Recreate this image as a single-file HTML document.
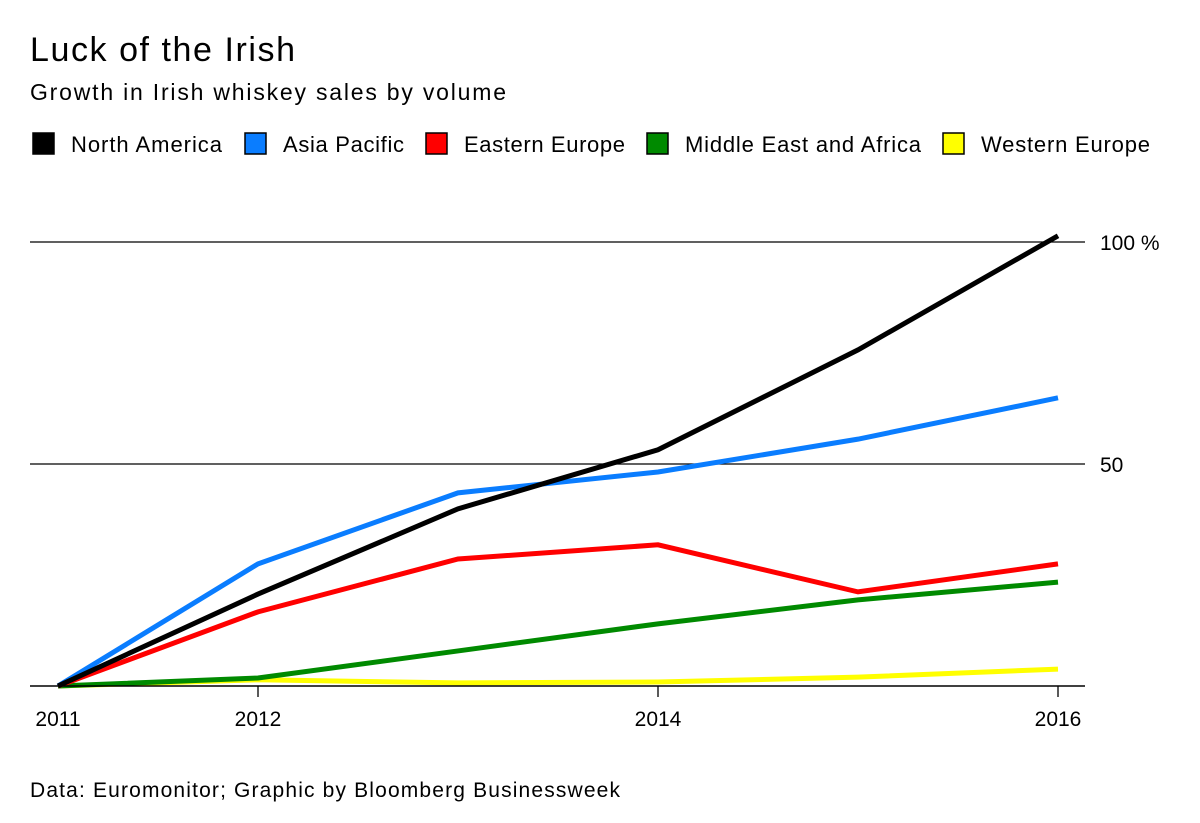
<!DOCTYPE html>
<html><head><meta charset="utf-8"><style>
body{margin:0;background:#fff;font-family:"Liberation Sans",sans-serif;}
svg{display:block}
</style></head><body>
<svg width="1200" height="823">
<text x="30" y="61" font-size="34" textLength="265" lengthAdjust="spacing" fill="#000">Luck of the Irish</text>
<text x="30" y="100" font-size="23" textLength="476" lengthAdjust="spacing" fill="#000">Growth in Irish whiskey sales by volume</text>
<g id="legend"></g>
<g id="grid"></g>
<g id="lines"></g>
<g id="xaxis"></g>
<text x="30" y="797" font-size="21" textLength="590" lengthAdjust="spacing" fill="#000">Data: Euromonitor; Graphic by Bloomberg Businessweek</text>
</svg>
<script>
const years=[2011,2012,2013,2014,2015,2016];
const seriesNames=["North America","Asia Pacific","Eastern Europe","Middle East and Africa","Western Europe"];
const seriesColors=["#000000","#0a7dff","#ff0000","#008a00","#ffff00"];
const northAmerica=[0,20.7,39.9,53.2,75.7,101.4];
const asiaPacific=[0,27.5,43.5,48.2,55.6,64.9];
const easternEurope=[0,16.7,28.6,31.8,21.2,27.5];
const middleEast=[0,1.8,7.9,14,19.4,23.4];
const westernEurope=[0,1.4,0.7,0.9,2,3.8];
const yTicks=[50,100];
const yTickLabels=["50","100 %"];
const xTicks=[2011,2012,2014,2016];
const NS="http://www.w3.org/2000/svg";
const X=v=>58+(v-2011)*200;
const Y=v=>686-v*4.44;
function mk(tag,attrs,parent){const e=document.createElementNS(NS,tag);for(const k in attrs)e.setAttribute(k,attrs[k]);parent.appendChild(e);return e;}
const grid=document.getElementById('grid');
yTicks.forEach((t,i)=>{
 const l=mk('line',{x1:30,x2:1085,y1:Y(t),y2:Y(t),stroke:'#000','stroke-width':1.3},grid);
 
 
 const tx=mk('text',{x:1100,y:Y(t)+8,'font-size':21},grid);tx.textContent=yTickLabels[i];
 
 
});
const xa=document.getElementById('xaxis');
const base=mk('line',{x1:30,x2:1085,y1:Y(0),y2:Y(0),stroke:'#000','stroke-width':1.5},xa);


xTicks.forEach(t=>{
 if(t!==2011){const tk=mk('line',{x1:X(t),x2:X(t),y1:Y(0),y2:Y(0)+11,stroke:'#000','stroke-width':1.3},xa);
 
 }
 const tx=mk('text',{x:X(t),y:726,'font-size':21,'text-anchor':'middle'},xa);tx.textContent=t;
 
 
});
const data=[northAmerica,asiaPacific,easternEurope,middleEast,westernEurope];
const lines=document.getElementById('lines');
for(let s=data.length-1;s>=0;s--){
 const pts=data[s].map((v,i)=>X(years[i])+','+Y(v)).join(' ');
 const p=mk('polyline',{points:pts,fill:'none',stroke:seriesColors[s],'stroke-width':5,'stroke-linejoin':'miter'},lines);
 
 
}
const lg=document.getElementById('legend');
const lx=[32,244,425,646,942];
const legendTextWidths=[151,121,161,236,169];
seriesNames.forEach((n,i)=>{
 const r=mk('rect',{x:lx[i]+1,y:133,width:21,height:21,fill:seriesColors[i],stroke:'#000','stroke-width':1.5},lg);
 
 
 const t=mk('text',{x:lx[i]+39,y:152,'font-size':22,textLength:legendTextWidths[i],lengthAdjust:'spacing'},lg);t.textContent=n;
 
 
});
</script>
</body></html>
